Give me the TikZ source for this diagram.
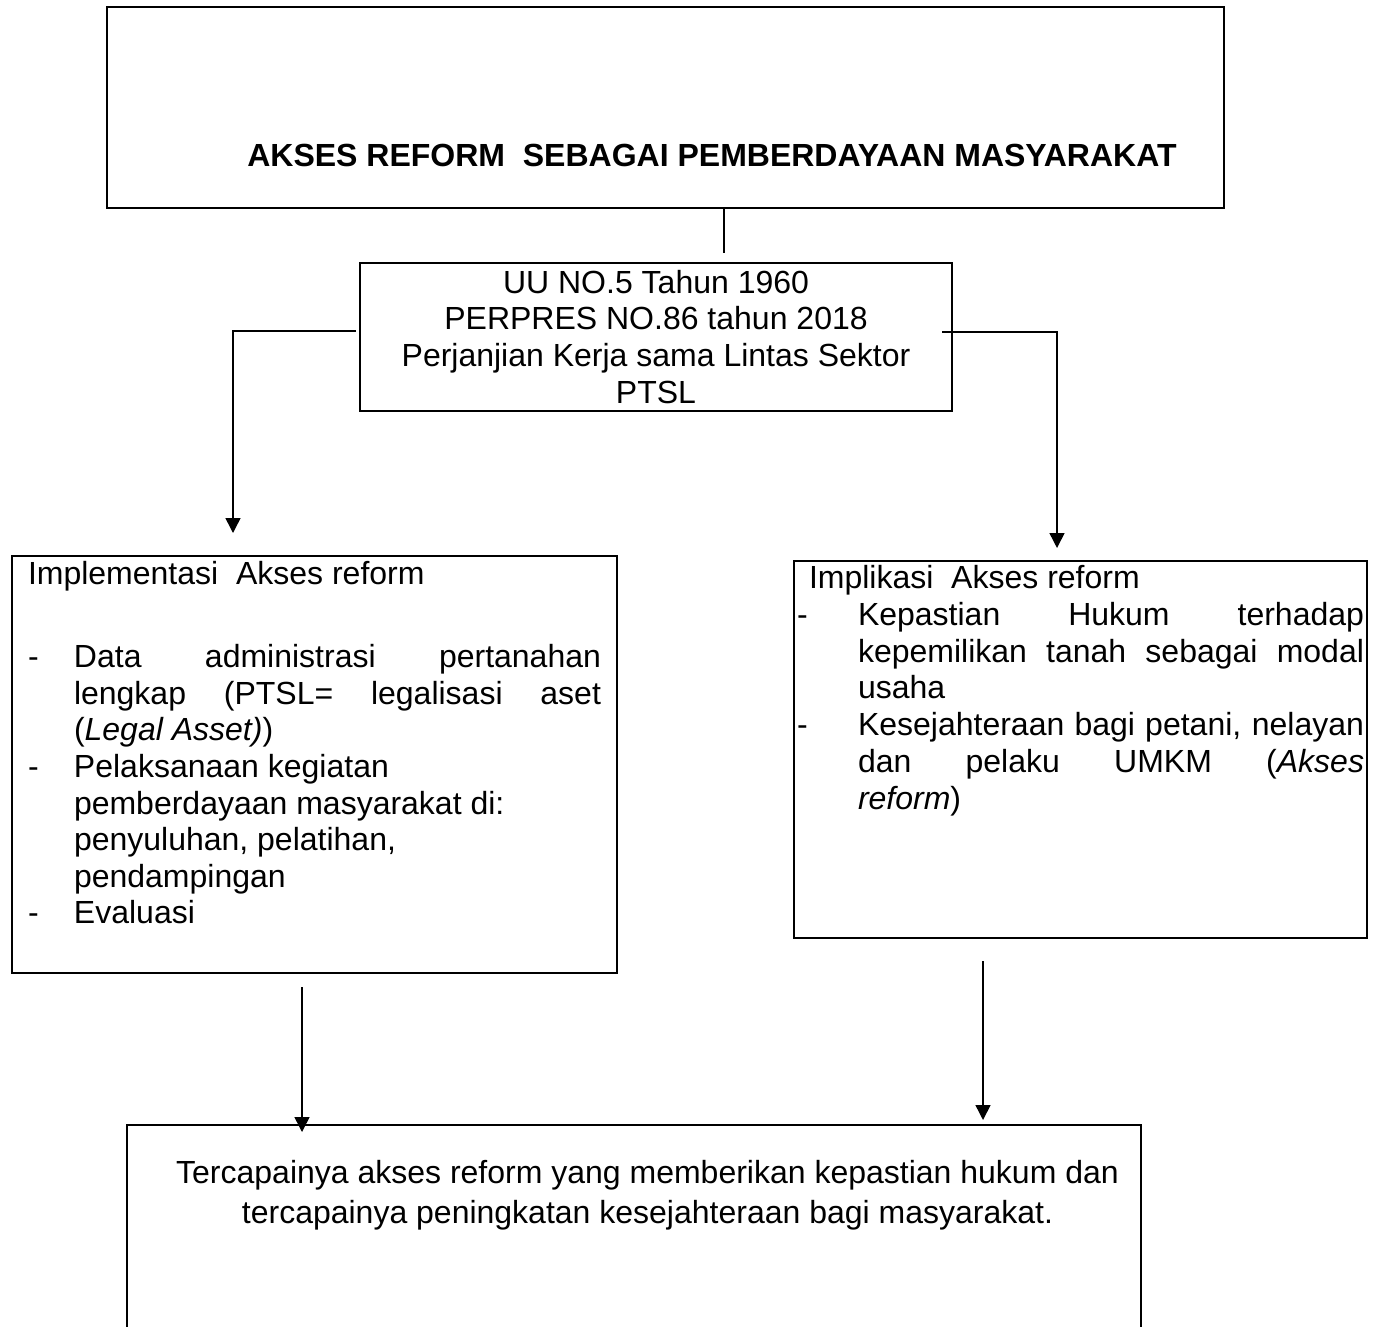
\documentclass[tikz,border=0pt]{standalone}
\usepackage{fontspec}
\setmainfont{Liberation Sans}
\usetikzlibrary{arrows.meta,calc}
\newcommand{\butir}[1]{\par\hangindent=#1\hangafter=1\noindent\makebox[#1][l]{-}}
\tikzset{
  kotak/.style={draw,line width=1pt,anchor=north west},
  garis/.style={line width=0.75pt},
  panah/.style={-{Triangle[length=7.5pt,width=7.5pt]},line width=0.75pt},
}

\begin{document}
\begin{tikzpicture}[x=0.5pt,y=-0.5pt,font=\fontsize{16pt}{18.3pt}\selectfont]
  \useasboundingbox (0,0) rectangle (1379,1326);
  \clip (0,0) rectangle (1379,1326);

  \node[draw,line width=1pt,minimum width=558.5pt,minimum height=100.5pt] (judul) at (665.5,107.5) {};
  \node[font=\fontsize{16pt}{18.3pt}\selectfont\bfseries] (judulteks) at (712,155)
    {AKSES REFORM\ \ SEBAGAI PEMBERDAYAAN MASYARAKAT};

  \node[draw,line width=1pt,minimum width=296pt,minimum height=74pt,inner sep=0pt,align=center,
    font=\fontsize{16pt}{18.35pt}\selectfont] (dasar) at (656,336.7)
    {UU NO.5 Tahun 1960\\PERPRES NO.86 tahun 2018\\Perjanjian Kerja sama Lintas Sektor\\PTSL};

  % kotak kiri
  \node[kotak,inner xsep=8pt,inner ysep=2.8pt] (kiri) at (11,555) {\parbox[t][202.9pt][t]{286.5pt}{%
    \fontsize{16pt}{18.3pt}\selectfont\tolerance=10000
    Implementasi\ \ Akses reform\par
    \vspace{23.2pt}
    \butir{23pt}Data administrasi pertanahan\linebreak lengkap (PTSL= legalisasi aset\linebreak (\textit{Legal Asset)})
    \butir{23pt}Pelaksanaan kegiatan\\pemberdayaan masyarakat di:\\penyuluhan, pelatihan,\\pendampingan
    \butir{23pt}Evaluasi\par}};

  % kotak kanan
  \node[kotak,inner xsep=1.5pt,inner ysep=2.2pt] (kanan) at (793,560) {\parbox[t][184.1pt][t]{283.5pt}{%
    \fontsize{16pt}{18.4pt}\selectfont\tolerance=10000
    \hspace*{6pt}Implikasi\ \ Akses reform
    \butir{30.5pt}Kepastian Hukum terhadap\linebreak kepemilikan tanah sebagai modal\linebreak usaha
    \butir{30.5pt}Kesejahteraan bagi petani, nelayan\linebreak dan pelaku UMKM (\textit{Akses}\linebreak \textit{reform})\par}};

  \node[kotak,inner xsep=0pt,inner ysep=17.4pt] (hasil) at (126,1124) {\parbox[t][90pt][t]{507pt}{%
    \fontsize{16pt}{20pt}\selectfont\centering\leftskip=13.5pt plus 1fil
    Tercapainya akses reform yang memberikan kepastian hukum dan\\
    tercapainya peningkatan kesejahteraan bagi masyarakat.\par}};

  % penghubung
  \coordinate (tengah) at ([xshift=34pt,yshift=4.5pt]dasar.north);
  \draw[garis] (tengah) -- (tengah |- judul.south);
  \draw[panah] ([xshift=-1.5pt,yshift=2.8pt]dasar.west) -| ([xshift=-40.75pt,yshift=11pt]kiri.north);
  \draw[panah] ([xshift=-5.5pt,yshift=2.35pt]dasar.east) -| ([xshift=-11.75pt,yshift=6pt]kanan.north);
  \coordinate (kiribawah) at ([xshift=-6.25pt,yshift=-6.5pt]kiri.south);
  \draw[panah] (kiribawah) -- ($(kiribawah |- hasil.north)+(0,-4pt)$);
  \coordinate (kananbawah) at ([xshift=-48.75pt,yshift=-11pt]kanan.south);
  \draw[panah] (kananbawah) -- ($(kananbawah |- hasil.north)+(0,2pt)$);
\end{tikzpicture}
\end{document}
